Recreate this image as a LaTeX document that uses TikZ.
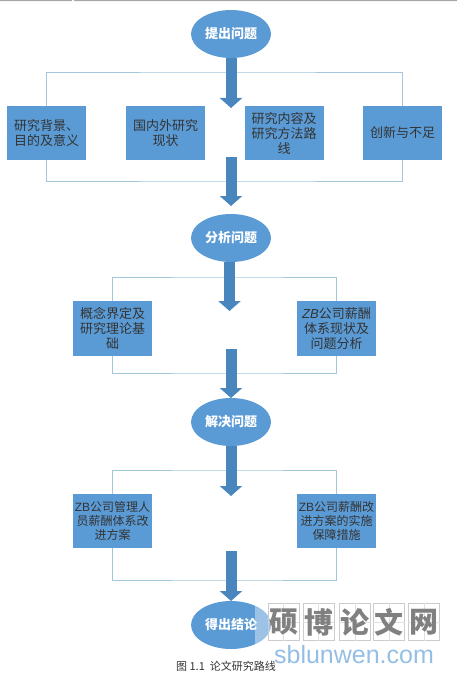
\documentclass[tikz,border=0pt]{standalone}
\usepackage{fontspec}
\setmainfont{Noto Sans CJK SC}
\newfontfamily\wmfont{Liberation Sans}
\usetikzlibrary{arrows.meta,shapes.geometric}
\definecolor{nodeblue}{HTML}{5B9BD5}
\definecolor{arrowblue}{HTML}{4A86BE}
\definecolor{frameblue}{HTML}{A3C6DC}
\tikzset{
  stagenode/.style={draw=none,fill=nodeblue,ellipse,minimum width=80pt,minimum height=48pt,
    inner sep=0pt,outer sep=0pt,text=white,font=\bfseries\fontsize{13pt}{15pt}\selectfont},
  topicbox/.style={draw=none,fill=nodeblue,minimum width=79pt,minimum height=54.5pt,inner sep=0pt,
    outer sep=0pt,align=center,text=black!80,font=\fontsize{13pt}{15pt}\selectfont},
  smallbox/.style={topicbox,font=\fontsize{12pt}{14pt}\selectfont},
  framerule/.style={draw=frameblue,line width=0.9pt},
  flowarrow/.style={draw=arrowblue,line width=11pt,-{Triangle[width=22pt,length=10pt]}},
  wmcell/.style={draw=black!20,line width=0.6pt,minimum width=31pt,minimum height=37pt,inner sep=0pt,
    text=black!50,font=\bfseries\fontsize{29pt}{30pt}\selectfont},
}
\begin{document}
\begin{tikzpicture}[x=1pt,y=-1pt]
    \useasboundingbox (0,0) rectangle (457,674);
    \fill[black!35] (0,0) rectangle (72,1.2) (74,0) rectangle (457,1.2);

    % stages
    \node[stagenode] (tichu) at (231,34) {提出问题};
    \node[stagenode] (fenxi) at (231,238) {分析问题};
    \node[stagenode] (jiejue) at (231,422) {解决问题};
    \node[stagenode] (jielun) at (231,625) {得出结论};

    % topic boxes
    \node[topicbox] (beijing) at (46.5,133) {研究背景、\\目的及意义};
    \node[topicbox] (xianzhuang) at (165.5,133) {国内外研究\\现状};
    \node[topicbox] (neirong) at (284,133) {研究内容及\\研究方法路\\线};
    \node[topicbox] (chuangxin) at (402.5,133) {创新与不足};
    \node[topicbox] (gainian) at (112.5,328.5) {概念界定及\\研究理论基\\础};
    \node[topicbox] (tixi) at (336.5,328.5) {{\wmfont\itshape ZB}公司薪酬\\体系现状及\\问题分析};
    \node[smallbox] (guanli) at (112.5,521) {{\wmfont ZB}公司管理人\\员薪酬体系改\\进方案};
    \node[smallbox] (baozhang) at (336.5,521) {{\wmfont ZB}公司薪酬改\\进方案的实施\\保障措施};

    % frames
    \coordinate (topA) at (231,72);
    \coordinate (botA) at (231,181);
    \coordinate (topB) at (231,277);
    \coordinate (botB) at (231,373);
    \coordinate (topC) at (231,470);
    \coordinate (botC) at (231,580);
    \draw[framerule] (beijing.north) |- (topA) -| (chuangxin.north);
    \draw[framerule] (beijing.south) |- (botA) -| (chuangxin.south);
    \draw[framerule] (gainian.north) |- (topB) -| (tixi.north);
    \draw[framerule] (gainian.south) |- (botB) -| (tixi.south);
    \draw[framerule] (guanli.north) |- (topC) -| (baozhang.north);
    \draw[framerule] (guanli.south) |- (botC) -| (baozhang.south);

    % arrows
    \coordinate (tipA) at (231,108);
    \coordinate (tailB) at (231,157);
    \coordinate (tipB) at (231,206);
    \coordinate (tipC) at (229.5,311);
    \coordinate (tailD) at (231,349);
    \coordinate (tipE) at (231,496);
    \coordinate (tailF) at (231,551);
    \draw[flowarrow] (tichu.south) -- (tipA);
    \draw[flowarrow] (tailB) -- (tipB);
    \draw[flowarrow] (229.5,262) -- (tipC);
    \draw[flowarrow] (tailD) -- (jiejue.north);
    \draw[flowarrow] (jiejue.south) -- (tipE);
    \draw[flowarrow] (tailF) -- (jielun.north);

    % caption
    \node[font=\fontsize{11pt}{13pt}\selectfont,text=black!80] (caption) at (226,666) {图\ 1.1\ \ 论文研究路线};

    % watermark
    \begin{scope}
      \clip (255,595) rectangle (280,655);
      \fill[white,opacity=0.4] (231,625) ellipse [x radius=40,y radius=24];
    \end{scope}
    \foreach \cx/\ch [count=\i] in {283.5/硕,318.5/博,355/论,389/文,424/网}{
      \node[wmcell] (cell\i) at (\cx,622) {};
      \draw[draw=black!12,line width=0.4pt] (cell\i.north) -- (cell\i.south) (cell\i.west) -- (cell\i.east);
      \node[text=black!50,font=\bfseries\fontsize{29pt}{30pt}\selectfont] (char\i) at (cell\i) {\ch};
    }
    \node[font=\wmfont\fontsize{25pt}{27pt}\selectfont,text=nodeblue!65] (site) at (354,655) {sblunwen.com};

  \end{tikzpicture}
\end{document}
